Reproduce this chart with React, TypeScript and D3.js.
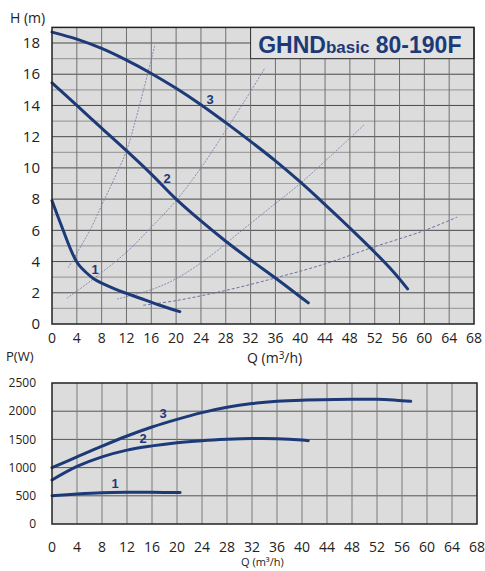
import * as d3 from "d3"

// * Q axis ticks (m3/h)
const qTicks = [0, 4, 8, 12, 16, 20, 24, 28, 32, 36, 40, 44, 48, 52, 56, 60, 64, 68]
const hTicks = [0, 2, 4, 6, 8, 10, 12, 14, 16, 18]
const pTicks = [0, 500, 1000, 1500, 2000, 2500]

// * H-Q curves, speeds 1..3
const head1: [number, number][] = [
  [0, 7.9], [1.8, 6.0], [3.2, 4.6], [4.2, 3.85], [5.5, 3.3], [6.9, 2.85], [10.4, 2.2], [14.2, 1.65], [17, 1.25], [20.6, 0.79],
]
const head2: [number, number][] = [
  [0, 15.45], [4, 14.0], [8, 12.55], [12, 11.1], [16, 9.6], [20, 8.0], [24, 6.6], [28, 5.3], [32, 4.1], [36, 2.95], [41.3, 1.35],
]
const head3: [number, number][] = [
  [0, 18.7], [4, 18.25], [8, 17.65], [12, 16.9], [16, 16.05], [20, 15.1], [24, 14.05], [28, 12.9], [32, 11.7], [36, 10.45],
  [40, 9.1], [44, 7.65], [48, 6.15], [52, 4.6], [55, 3.35], [57.3, 2.25],
]

// * System curves (thin dotted)
const sysA: [number, number][] = [[2.6, 3.6], [6.1, 6.0], [8, 7.6], [9.9, 9.2], [12, 11.1], [13.9, 13.7], [16.6, 17.9]]
const sysB: [number, number][] = [
  [2.4, 1.65], [6.7, 2.9], [12, 4.6], [16, 6.2], [20, 7.9], [24, 10.0], [28, 12.4], [32, 14.9], [34.3, 16.4],
]
const sysC: [number, number][] = [
  [10.5, 1.6], [16, 2.2], [20, 2.9], [25, 4.2], [30.3, 5.9], [35, 7.4], [40, 9.0], [45, 10.8], [50.4, 12.8],
]
const sysD: [number, number][] = [
  [14.7, 1.2], [20, 1.5], [28, 2.15], [36, 2.95], [44, 3.85], [51.6, 4.9], [59.8, 5.96], [65.3, 6.85],
]

// * P-Q curves
const power1: [number, number][] = [[0, 502], [4, 532], [8, 554], [12, 562], [16, 562], [20.5, 558]]
const power2: [number, number][] = [
  [0, 780], [4, 1020], [8, 1190], [12, 1310], [16, 1385], [20, 1442], [24, 1478], [28, 1501], [32, 1515], [36, 1513],
  [40, 1489], [41, 1478],
]
const power3: [number, number][] = [
  [0, 998], [4, 1190], [8, 1380], [12, 1560], [16, 1720], [20, 1856], [24, 1975], [28, 2070], [32, 2135], [36, 2175],
  [40, 2195], [48, 2210], [52, 2212], [55, 2195], [57.4, 2175],
]

const NAVY = "#1c3a78"
const FONT = "'Open Sans', 'DejaVu Sans', sans-serif"
const LABEL_FONT = "'Liberation Sans', Arial, sans-serif"

export default function App() {
  const W = 485
  const H = 571

  // * Top chart scales
  const x1 = d3.scaleLinear().domain([0, 68]).range([52, 474])
  const y1 = d3.scaleLinear().domain([0, 19]).range([324, 27.4])
  // * Bottom chart scales
  const x2 = d3.scaleLinear().domain([0, 68]).range([52, 477])
  const y2 = d3.scaleLinear().domain([0, 2500]).range([524, 383])

  const lineTop = d3
    .line<[number, number]>()
    .x((d) => x1(d[0]))
    .y((d) => y1(d[1]))
    .curve(d3.curveCatmullRom.alpha(0.5))
  const lineBot = d3
    .line<[number, number]>()
    .x((d) => x2(d[0]))
    .y((d) => y2(d[1]))
    .curve(d3.curveCatmullRom.alpha(0.5))

  const hGrid = d3.range(1, 19)
  const pGrid = [500, 1000, 1500, 2000]

  return (
    <svg width={W} height={H} style={{ position: "absolute", left: 0, top: 0, background: "#fff" }} fontFamily={FONT}>
      {/* top plot background */}
      <rect x={52} y={27.4} width={474 - 52} height={324 - 27.4} fill="#dcdcdc" />
      {hGrid.map((v) => (
        <line
          key={"h" + v}
          x1={52}
          x2={474}
          y1={y1(v)}
          y2={y1(v)}
          stroke={v % 2 === 0 ? "#4a4a4a" : "#a0a0a0"}
          strokeWidth={v % 2 === 0 ? 1 : 1.2}
        />
      ))}
      {qTicks.slice(1, -1).map((q) => (
        <line key={"v" + q} x1={x1(q)} x2={x1(q)} y1={27.4} y2={324} stroke="#707070" strokeWidth={1} />
      ))}

      {/* title box */}
      <rect x={x1(32)} y={27.4} width={474 - x1(32)} height={y1(17) - 27.4} fill="#e2e2e2" stroke="#333" strokeWidth={1} />
      <text x={x1(49.6)} y={53} textAnchor="middle" fill={NAVY} fontFamily={LABEL_FONT} fontWeight="bold">
        <tspan fontSize={23}>GHND</tspan>
        <tspan fontSize={17}>basic</tspan>
        <tspan fontSize={23}> 80-190F</tspan>
      </text>

      {/* system curves */}
      {[sysA, sysB, sysC].map((s, i) => (
        <path key={"s" + i} d={lineTop(s) || ""} fill="none" stroke="#7c82aa" strokeWidth={0.9} strokeDasharray="2,1.3" />
      ))}
      <path d={lineTop(sysD) || ""} fill="none" stroke="#6a70a2" strokeWidth={1} strokeDasharray="3,2" />

      {/* head curves */}
      {[head1, head2, head3].map((c, i) => (
        <path key={"hc" + i} d={lineTop(c) || ""} fill="none" stroke={NAVY} strokeWidth={3} strokeLinecap="round" />
      ))}
      <text x={95} y={274} fill={NAVY} fontSize={13} fontWeight="bold" textAnchor="middle" fontFamily={LABEL_FONT}>1</text>
      <text x={167} y={183} fill={NAVY} fontSize={13} fontWeight="bold" textAnchor="middle" fontFamily={LABEL_FONT}>2</text>
      <text x={210} y={104} fill={NAVY} fontSize={13} fontWeight="bold" textAnchor="middle" fontFamily={LABEL_FONT}>3</text>

      <rect x={52} y={27.4} width={474 - 52} height={324 - 27.4} fill="none" stroke="#222" strokeWidth={1.5} />

      {/* top axes labels */}
      {hTicks.map((v) => (
        <text key={"ht" + v} x={40} y={y1(v)} dy="0.35em" textAnchor="end" fontSize={15} fill="#222">
          {v}
        </text>
      ))}
      {qTicks.map((q) => (
        <text key={"qt" + q} x={x1(q)} y={338} dy="0.35em" textAnchor="middle" fontSize={14} fill="#222">
          {q}
        </text>
      ))}
      <text x={10} y={23} fontSize={14} fill="#222">
        H (m)
      </text>
      <text x={247} y={363} fontSize={14} fill="#222">
        Q (m<tspan dy={-4} fontSize={10}>3</tspan>
        <tspan dy={4}>/h)</tspan>
      </text>

      {/* bottom plot */}
      <text x={6} y={361} fontSize={13} fill="#222">
        P(W)
      </text>
      <rect x={52} y={383} width={477 - 52} height={524 - 383} fill="#dcdcdc" />
      {pGrid.map((v) => (
        <line key={"pg" + v} x1={52} x2={477} y1={y2(v)} y2={y2(v)} stroke="#555" strokeWidth={1} />
      ))}
      {qTicks.slice(1, -1).map((q) => (
        <line key={"pv" + q} x1={x2(q)} x2={x2(q)} y1={383} y2={524} stroke="#7a7a7a" strokeWidth={1} />
      ))}
      {[power1, power2, power3].map((c, i) => (
        <path key={"pc" + i} d={lineBot(c) || ""} fill="none" stroke={NAVY} strokeWidth={3} strokeLinecap="round" />
      ))}
      <text x={115} y={488} fill={NAVY} fontSize={13} fontWeight="bold" textAnchor="middle" fontFamily={LABEL_FONT}>1</text>
      <text x={143} y={443} fill={NAVY} fontSize={13} fontWeight="bold" textAnchor="middle" fontFamily={LABEL_FONT}>2</text>
      <text x={163} y={418} fill={NAVY} fontSize={13} fontWeight="bold" textAnchor="middle" fontFamily={LABEL_FONT}>3</text>
      <rect x={52} y={383} width={477 - 52} height={524 - 383} fill="none" stroke="#222" strokeWidth={1.5} />

      {pTicks.map((v) => (
        <text key={"pt" + v} x={36} y={y2(v)} dy="0.35em" textAnchor="end" fontSize={12} fill="#222">
          {v}
        </text>
      ))}
      {qTicks.map((q) => (
        <text key={"qb" + q} x={x2(q)} y={547} dy="0.35em" textAnchor="middle" fontSize={14} fill="#222">
          {q}
        </text>
      ))}
      <text x={241} y={566} fontSize={11} fill="#222">
        Q (m³/h)
      </text>
    </svg>
  )
}
